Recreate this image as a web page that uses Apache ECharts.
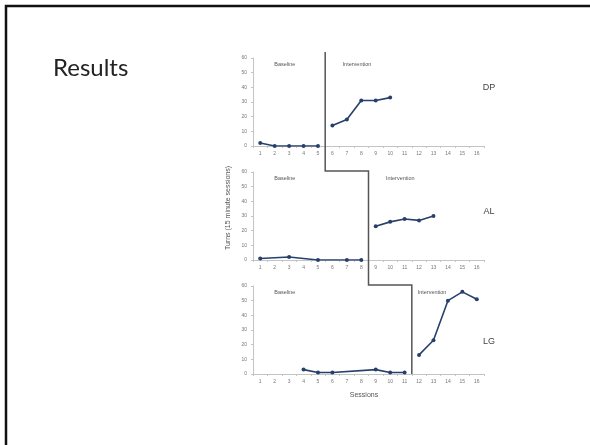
<!DOCTYPE html>
<html>
<head>
<meta charset="utf-8">
<script src="https://cdn.jsdelivr.net/npm/echarts@6/dist/echarts.min.js"></script>
<style>
    html, body { margin: 0; padding: 0; background: #fff; }
    #chart { width: 590px; height: 445px; }
</style>
</head>
<body>
<div id="chart"></div>
<script>
    // sessions on the x axis
    let sessions = ["1","2","3","4","5","6","7","8","9","10","11","12","13","14","15","16"];
    let yTicks = [0, 10, 20, 30, 40, 50, 60];

    // participants, top to bottom
    let participants = ["DP", "AL", "LG"];

    // turns per 15 minute session (null = no session)
    let dpBaseline     = [2, 0, 0, 0, 0, null, null, null, null, null, null, null, null, null, null, null];
    let dpIntervention = [null, null, null, null, null, 14, 18, 31, 31, 33, null, null, null, null, null, null];
    let alBaseline     = [1, null, 2, null, 0, null, 0, 0, null, null, null, null, null, null, null, null];
    let alIntervention = [null, null, null, null, null, null, null, null, 23, 26, 28, 27, 30, null, null, null];
    let lgBaseline     = [null, null, null, 3, 1, 1, null, null, 3, 1, 1, null, null, null, null, null];
    let lgIntervention = [null, null, null, null, null, null, null, null, null, null, null, 13, 23, 50, 56, 51];

    // last baseline session of each participant
    let phaseEnds = [5, 8, 11];

    let baselineData = [dpBaseline, alBaseline, lgBaseline];
    let interventionData = [dpIntervention, alIntervention, lgIntervention];

    let gridTops = [58, 172, 286];
    let lineColor = "#27406b";
    let axisGray = "#c4c4c4";
    let labelGray = "#777";

    let chart = echarts.init(document.getElementById("chart"), null, {renderer: "canvas"});

    let grids = [];
    let xAxes = [];
    let yAxes = [];
    let series = [];

    for (let i = 0; i < 3; i++) {
        grids.push({left: 253, width: 231, top: gridTops[i], height: 88});
        xAxes.push({
            type: "category",
            gridIndex: i,
            data: sessions,
            boundaryGap: true,
            axisLine: {lineStyle: {color: axisGray, width: 1}},
            axisTick: {show: true, length: 2, lineStyle: {color: axisGray}},
            axisLabel: {fontSize: 5, color: labelGray, margin: 5, interval: 0, fontFamily: "Liberation Sans"}
        });
        yAxes.push({
            type: "value",
            gridIndex: i,
            min: yTicks[0],
            max: yTicks[yTicks.length - 1],
            interval: yTicks[1] - yTicks[0],
            axisLine: {show: true, lineStyle: {color: axisGray, width: 1}},
            axisTick: {show: true, length: 2, lineStyle: {color: axisGray}},
            splitLine: {show: false},
            axisLabel: {fontSize: 5, color: labelGray, margin: 6, fontFamily: "Liberation Sans"}
        });
        [baselineData[i], interventionData[i]].forEach(function (d) {
            series.push({
                type: "line",
                xAxisIndex: i,
                yAxisIndex: i,
                data: d,
                connectNulls: true,
                symbol: "circle",
                symbolSize: 4,
                showSymbol: true,
                lineStyle: {color: lineColor, width: 1.6},
                itemStyle: {color: lineColor},
                animation: false
            });
        });
    }

    let baseGraphics = [
        {
            type: "rect",
            shape: {x: 6, y: 6, width: 620, height: 480},
            style: {fill: "none", stroke: "#111", lineWidth: 2.5}
        },
        {
            type: "text",
            x: 53,
            y: 56,
            style: {text: "Results", fontSize: 24, fill: "#222", fontFamily: "Lato", fontWeight: 400}
        },
        {
            type: "text",
            x: 364,
            y: 395,
            style: {text: "Sessions", fontSize: 7, fill: "#555", align: "center", verticalAlign: "middle", fontFamily: "Liberation Sans"}
        },
        {
            type: "text",
            x: 228,
            y: 208,
            rotation: Math.PI / 2,
            style: {text: "Turns (15 minute sessions)", fontSize: 7, fill: "#555", align: "center", verticalAlign: "middle", fontFamily: "Liberation Sans"}
        }
    ];

    chart.setOption({
        animation: false,
        grid: grids,
        xAxis: xAxes,
        yAxis: yAxes,
        series: series,
        graphic: baseGraphics
    });

    // phase change line and panel labels placed through the axes
    let px = function (i, session, value) {
        return chart.convertToPixel({gridIndex: i}, [String(session), value]);
    };

    let pts = [];
    for (let i = 0; i < 3; i++) {
        let a = px(i, phaseEnds[i], 0)[0];
        let b = px(i, phaseEnds[i] + 1, 0)[0];
        let x = (a + b) / 2;
        let yTop = i == 0 ? px(0, 1, 60)[1] - 6 : px(i, 1, 60)[1] - 1;
        let yBottom = i < 2 ? px(i + 1, 1, 60)[1] - 1 : px(i, 1, 0)[1];
        pts.push([x, yTop]);
        pts.push([x, yBottom]);
    }

    let extra = [{
        type: "polyline",
        shape: {points: pts},
        style: {stroke: "#555", lineWidth: 1.5, fill: null},
        z: 10
    }];

    let baselineAt = [2.7, 2.7, 2.7];
    let interventionAt = [7.7, 10.7, 12.9];
    let nameY = [40, 33, 22];
    for (let i = 0; i < 3; i++) {
        let top = px(i, 1, 60)[1];
        let step = px(i, 2, 0)[0] - px(i, 1, 0)[0];
        let bx = px(i, 1, 0)[0] + step * (baselineAt[i] - 1);
        let ix = px(i, 1, 0)[0] + step * (interventionAt[i] - 1);
        extra.push({type: "text", x: bx, y: top + 6, style: {text: "Baseline", fontSize: 5.5, fill: "#555", align: "center", verticalAlign: "middle", fontFamily: "Liberation Sans"}});
        extra.push({type: "text", x: ix, y: top + 6, style: {text: "Intervention", fontSize: 5.5, fill: "#555", align: "center", verticalAlign: "middle", fontFamily: "Liberation Sans"}});
        let ny = px(i, 1, nameY[i])[1];
        extra.push({type: "text", x: 489, y: ny, style: {text: participants[i], fontSize: 9, fill: "#444", align: "center", verticalAlign: "middle", fontFamily: "Liberation Sans"}});
    }

    chart.setOption({graphic: baseGraphics.concat(extra)});
</script>
</body>
</html>
